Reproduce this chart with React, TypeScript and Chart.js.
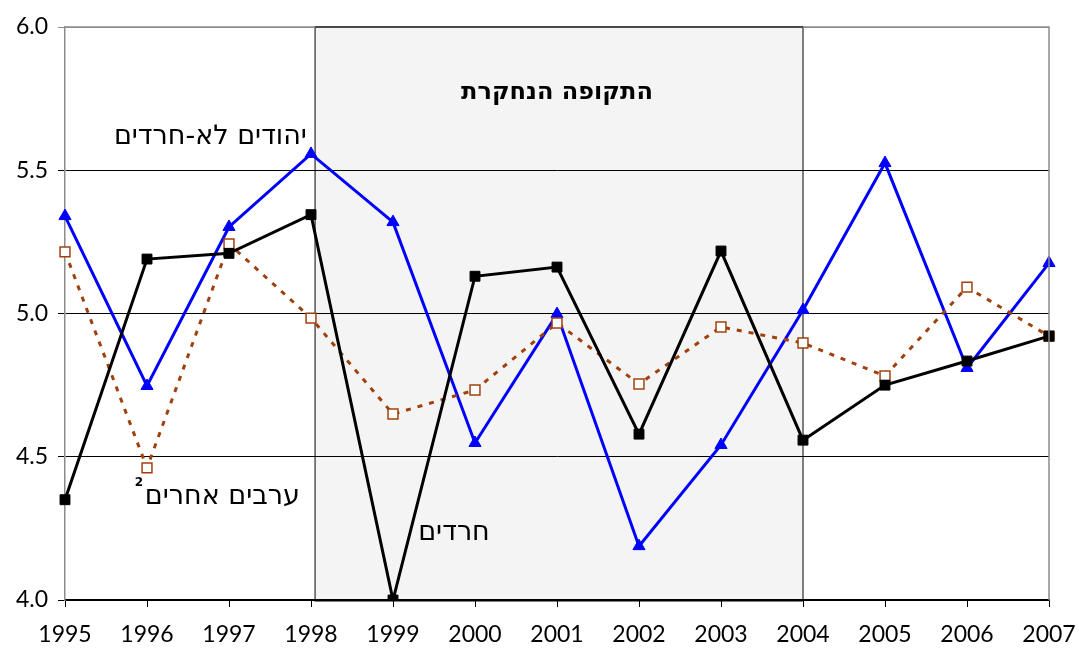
import React, { useEffect, useRef } from "react";
import { Chart, registerables } from "chart.js";

Chart.register(...registerables);

const years = ["1995", "1996", "1997", "1998", "1999", "2000", "2001", "2002", "2003", "2004", "2005", "2006", "2007"];
const haredim = [4.35, 5.19, 5.21, 5.345, 4.0, 5.13, 5.162, 4.579, 5.218, 4.558, 4.75, 4.834, 4.921];
const nonHarediJews = [5.34, 4.747, 5.302, 5.557, 5.319, 4.548, 4.998, 4.188, 4.541, 5.012, 5.525, 4.81, 5.176];
const otherArabs = [5.215, 4.461, 5.243, 4.984, 4.649, 4.733, 4.967, 4.754, 4.953, 4.897, 4.782, 5.092, 4.921];
const yTicks = [4.0, 4.5, 5.0, 5.5, 6.0];

// period under study (category indices)
const periodStart = 3.05;
const periodEnd = 9;

const hebFont = "'DejaVu Sans', 'Liberation Sans', sans-serif";
const labels = [
  { text: "יהודים לא-חרדים", x: 2.95, y: 5.616, align: "right", font: `27px ${hebFont}` },
  { text: "ערבים אחרים", x: 2.866, y: 4.36, align: "right", font: `27px ${hebFont}` },
  { text: "2", x: 0.9, y: 4.41, align: "center", font: `bold 12px ${hebFont}` },
  { text: "חרדים", x: 5.18, y: 4.234, align: "right", font: `27px ${hebFont}` },
  { text: "התקופה הנחקרת", x: 6.0, y: 5.77, align: "center", font: `bold 24px ${hebFont}` },
];

const tickFont = { family: "Lato, 'DejaVu Sans', sans-serif", size: 23 };

function px(chart: any, idx: number) {
  const xs = chart.scales.x;
  const a = xs.getPixelForValue(0);
  const b = xs.getPixelForValue(1);
  return a + idx * (b - a);
}

const decorPlugin = {
  id: "decor",
  beforeDraw(chart: any) {
    const ctx = chart.ctx;
    const ys = chart.scales.y;
    const x0 = px(chart, periodStart);
    const x1 = px(chart, periodEnd);
    const top = ys.getPixelForValue(6);
    const bot = ys.getPixelForValue(4);
    ctx.save();
    ctx.fillStyle = "#ffffff";
    ctx.fillRect(0, 0, chart.width, chart.height);
    ctx.fillStyle = "#f4f4f4";
    ctx.fillRect(x0, top, x1 - x0, bot - top + 1);
    ctx.strokeStyle = "#555555";
    ctx.lineWidth = 1.5;
    ctx.strokeRect(x0, top, x1 - x0, bot - top + 1);
    ctx.restore();
  },
  afterDraw(chart: any) {
    const ctx = chart.ctx;
    const ys = chart.scales.y;
    const ca = chart.chartArea;
    ctx.save();
    ctx.strokeStyle = "#8c8c8c";
    ctx.lineWidth = 1.5;
    ctx.beginPath();
    ctx.moveTo(ca.left, ca.top);
    ctx.lineTo(ca.right, ca.top);
    ctx.lineTo(ca.right, ca.bottom);
    ctx.stroke();
    ctx.strokeStyle = "#333333";
    ctx.beginPath();
    ctx.moveTo(px(chart, periodStart), ca.top);
    ctx.lineTo(px(chart, periodEnd), ca.top);
    ctx.stroke();
    ctx.fillStyle = "#000000";
    ctx.textBaseline = "middle";
    for (const l of labels) {
      ctx.font = l.font;
      ctx.textAlign = l.align;
      (ctx as any).direction = "rtl";
      ctx.fillText(l.text, px(chart, l.x), ys.getPixelForValue(l.y));
    }
    ctx.restore();
  },
};

export default function App() {
  const ref = useRef<HTMLCanvasElement | null>(null);
  useEffect(() => {
    document.body.style.margin = "0";
    const chart = new Chart(ref.current as HTMLCanvasElement, {
      type: "line",
      data: {
        labels: years,
        datasets: [
          {
            label: "חרדים",
            data: haredim,
            borderColor: "#000000",
            backgroundColor: "#000000",
            borderWidth: 3,
            pointStyle: "rect",
            pointRadius: 7,
            pointBorderWidth: 1,
            tension: 0,
          },
          {
            label: "ערבים אחרים",
            data: otherArabs,
            borderColor: "#a0410d",
            backgroundColor: "#ffffff",
            borderWidth: 3,
            borderDash: [5, 7],
            pointStyle: "rect",
            pointRadius: 7,
            pointBorderWidth: 1.5,
            pointBorderColor: "#a0410d",
            tension: 0,
          },
          {
            label: "יהודים לא-חרדים",
            data: nonHarediJews,
            borderColor: "#0000ff",
            backgroundColor: "#0000ff",
            borderWidth: 3,
            pointStyle: "triangle",
            pointRadius: 7,
            pointBorderWidth: 1,
            tension: 0,
          },
        ],
      },
      options: {
        responsive: false,
        animation: false,
        layout: { padding: { top: 27, right: 30, left: 0, bottom: 0 } },
        plugins: { legend: { display: false }, tooltip: { enabled: false }, title: { display: false } },
        scales: {
          x: {
            type: "category",
            offset: false,
            grid: { display: true, drawOnChartArea: false, drawTicks: true, tickLength: 7, color: "#000000" },
            border: { display: true, color: "#000000", width: 1.5 },
            ticks: { color: "#000000", font: tickFont, padding: 14, maxRotation: 0, autoSkip: false },
            afterFit: (s: any) => { s.height = 48; s.paddingRight = 30; s.paddingLeft = 0; },
          },
          y: {
            type: "linear",
            min: 4,
            max: 6,
            afterBuildTicks: (s: any) => { s.ticks = yTicks.map((v) => ({ value: v })); },
            grid: {
              color: (c: any) => (c.tick && c.tick.value === 6 ? "#8c8c8c" : "#000000"),
              lineWidth: 1,
              tickLength: 7,
              drawTicks: true,
            },
            border: { display: true, color: "#8c8c8c", width: 1.5 },
            ticks: { color: "#000000", font: tickFont, padding: 10, callback: (v: any) => Number(v).toFixed(1) },
            afterFit: (s: any) => { s.width = 65; },
          },
        },
      },
      plugins: [decorPlugin],
    } as any);
    return () => chart.destroy();
  }, []);
  return (
    <div style={{ position: "fixed", left: 0, top: 0, width: 1079, height: 648, background: "#fff" }}>
      <canvas ref={ref} width={1079} height={648} />
    </div>
  );
}
